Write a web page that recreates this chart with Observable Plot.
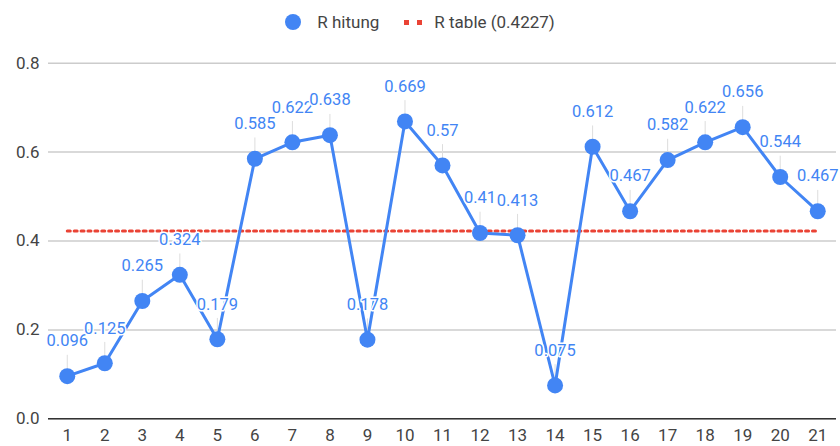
<!DOCTYPE html>
<html>
<head>
<meta charset="utf-8">
<script src="https://cdn.jsdelivr.net/npm/d3@7"></script>
<script src="https://cdn.jsdelivr.net/npm/@observablehq/plot@0.6"></script>
<style>
  html, body { margin: 0; padding: 0; background: #fff; }
  #legend { height: 44px; display: flex; align-items: center; justify-content: center;
    font-family: Roboto, sans-serif; font-size: 17px; color: #444; }
  .dot { width: 16px; height: 16px; border-radius: 50%; background: #4285F4; margin-right: 16px; }
  .sq { width: 5px; height: 5px; background: #EA4335; }
</style>
</head>
<body>
<div id="legend">
  <div class="dot"></div><span>R hitung</span>
  <div class="sq" style="margin-left:25px"></div><div class="sq" style="margin-left:8px;margin-right:12px"></div><span>R table (0.4227)</span>
</div>
<div id="chart"></div>
<script>
const categories = [1,2,3,4,5,6,7,8,9,10,11,12,13,14,15,16,17,18,19,20,21];
const rHitung = [0.096,0.125,0.265,0.324,0.179,0.585,0.622,0.638,0.178,0.669,0.57,0.418,0.413,0.075,0.612,0.467,0.582,0.622,0.656,0.544,0.467];
const valueLabels = ["0.096","0.125","0.265","0.324","0.179","0.585","0.622","0.638","0.178","0.669","0.57","0.41","0.413","0.075","0.612","0.467","0.582","0.622","0.656","0.544","0.467"];
const rTable = 0.4227;
const yTicks = [0, 0.2, 0.4, 0.6, 0.8];

const data = categories.map((c, i) => ({x: c, v: rHitung[i], label: valueLabels[i]}));
const tableLine = [{x: categories[0], v: rTable}, {x: categories[categories.length - 1], v: rTable}];
const leader = 0.0468;

const chart = Plot.plot({
  width: 840,
  height: 402,
  marginLeft: 48,
  marginRight: 4,
  marginTop: 18.7,
  marginBottom: 27.7,
  style: {fontFamily: "Roboto, sans-serif", fontSize: "17px", color: "#444", background: "#fff"},
  x: {type: "point", domain: categories, padding: 0.5, round: false, label: null},
  y: {domain: [0, 0.8], label: null},
  marks: [
    Plot.gridY(yTicks, {stroke: "#cccccc", strokeOpacity: 1, strokeWidth: 1.5}),
    Plot.axisY(yTicks, {tickSize: 0, tickPadding: 9, tickFormat: d3.format(".1f"), fontSize: 17, fill: "#444", label: null}),
    Plot.axisX(categories, {tickSize: 0, tickPadding: 10, fontSize: 17, fill: "#444", label: null}),
    Plot.ruleY([0], {stroke: "#333", strokeWidth: 1.5}),
    Plot.line(tableLine, {x: "x", y: "v", stroke: "#EA4335", strokeWidth: 3, strokeDasharray: "3,3.9"}),
    Plot.ruleX(data, {x: "x", y1: "v", y2: d => d.v + leader, stroke: "#dddddd", strokeWidth: 1}),
    Plot.line(data, {x: "x", y: "v", stroke: "#4285F4", strokeWidth: 3}),
    Plot.dot(data, {x: "x", y: "v", r: 8, fill: "#4285F4"}),
    Plot.text(data, {x: "x", y: "v", text: "label", dy: -35, fill: "#4285F4", stroke: "white", strokeWidth: 3, fontSize: 16.5})
  ]
});
document.getElementById("chart").appendChild(chart);
</script>
</body>
</html>
